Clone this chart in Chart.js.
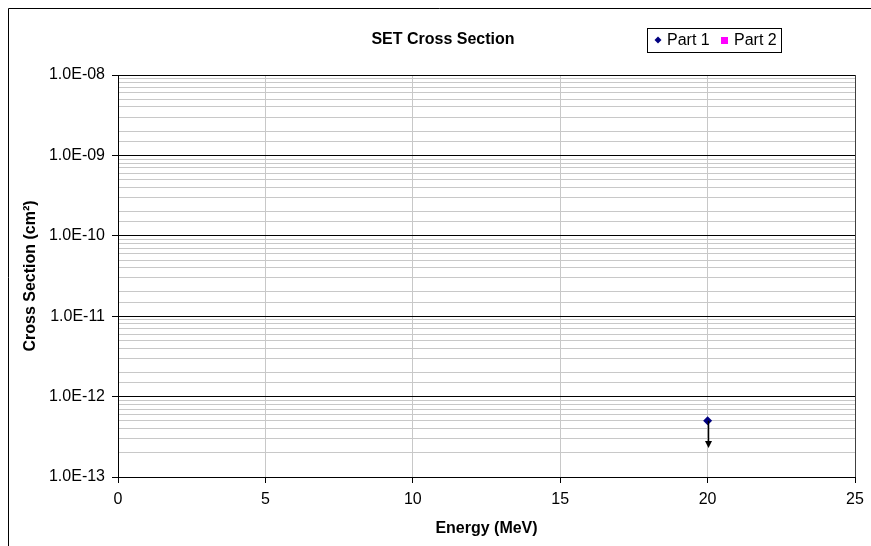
<!DOCTYPE html>
<html>
<head>
<meta charset="utf-8">
<script src="https://cdn.jsdelivr.net/npm/chart.js@4.4.0/dist/chart.umd.min.js"></script>
<style>
  html, body { margin: 0; padding: 0; background: #fff; }
  #chart { display: block; }
</style>
</head>
<body>
<canvas id="chart" width="871" height="546"></canvas>
<script>
// values
const part1Energy = [20];
const part1Section = [5e-13];
const part1Limit = [2.3e-13];   // arrow tip (upper-limit marker)
const part2Energy = [];
const part2Section = [];
const xTicks = [0, 5, 10, 15, 20, 25];
const yMin = 1e-13;
const yMax = 1e-8;

const FONT = "'Liberation Sans', Arial, sans-serif";

const isDecade = (v) => {
    const e = Math.log10(v);
    return Math.abs(e - Math.round(e)) < 1e-6;
};

const toPoints = (xs, ys) => xs.map((x, i) => ({ x: x, y: ys[i] }));

// frame, title, legend and the down arrows
const extras = {
    id: "extras",
    afterDatasetsDraw(chart) {
        const ctx = chart.ctx;
        const xs = chart.scales.x;
        const ys = chart.scales.y;
        ctx.save();
        ctx.strokeStyle = "#000";
        ctx.fillStyle = "#000";
        ctx.lineWidth = 1.5;
        part1Energy.forEach((e, i) => {
            const px = Math.round(xs.getPixelForValue(e)) + 0.5;
            const y0 = ys.getPixelForValue(part1Section[i]);
            const y1 = ys.getPixelForValue(part1Limit[i]);
            ctx.beginPath();
            ctx.moveTo(px, y0);
            ctx.lineTo(px, y1 - 6);
            ctx.stroke();
            ctx.beginPath();
            ctx.moveTo(px - 3.5, y1 - 7);
            ctx.lineTo(px + 3.5, y1 - 7);
            ctx.lineTo(px, y1);
            ctx.closePath();
            ctx.fill();
        });
        ctx.restore();
    },
    afterDraw(chart) {
        const ctx = chart.ctx;
        ctx.save();
        ctx.strokeStyle = "#000";
        ctx.lineWidth = 1;
        ctx.beginPath();
        ctx.moveTo(8.5, 546);
        ctx.lineTo(8.5, 8.5);
        ctx.lineTo(871, 8.5);
        ctx.stroke();

        ctx.fillStyle = "#000";
        ctx.font = "bold 16px " + FONT;
        ctx.textAlign = "center";
        ctx.textBaseline = "middle";
        ctx.fillText("SET Cross Section", 443, 40);

        // legend
        ctx.lineWidth = 1;
        ctx.strokeRect(647.5, 28.5, 134, 24);
        ctx.fillStyle = "#000080";
        ctx.beginPath();
        ctx.moveTo(658, 36.5);
        ctx.lineTo(661.5, 40);
        ctx.lineTo(658, 43.5);
        ctx.lineTo(654.5, 40);
        ctx.closePath();
        ctx.fill();
        ctx.fillStyle = "#ff00ff";
        ctx.fillRect(721, 37, 7, 7);
        ctx.fillStyle = "#000";
        ctx.font = "16px " + FONT;
        ctx.textAlign = "left";
        ctx.fillText("Part 1", 667, 41);
        ctx.fillText("Part 2", 734, 41);
        ctx.restore();
    }
};

new Chart(document.getElementById("chart"), {
    type: "scatter",
    data: {
        datasets: [
            {
                label: "Part 1",
                data: toPoints(part1Energy, part1Section),
                pointStyle: "rectRot",
                pointRadius: 4.5,
                backgroundColor: "#000080",
                borderColor: "#000080",
                borderWidth: 0
            },
            {
                label: "Part 2",
                data: toPoints(part2Energy, part2Section),
                pointStyle: "rect",
                pointRadius: 3.5,
                backgroundColor: "#ff00ff",
                borderColor: "#ff00ff"
            }
        ]
    },
    options: {
        responsive: false,
        animation: false,
        devicePixelRatio: 1,
        layout: { padding: { top: 75, right: 16, left: 0, bottom: 0 } },
        plugins: {
            legend: { display: false },
            title: { display: false },
            tooltip: { enabled: false }
        },
        scales: {
            x: {
                type: "linear",
                min: 0,
                max: 25,
                afterBuildTicks: (scale) => {
                    scale.ticks = xTicks.map(v => ({ value: v }));
                },
                afterFit: (scale) => { scale.height = 69; },
                grid: {
                    color: (c) => c.tick && c.tick.value === 25 ? "#404040" : "#c8c8c8",
                    tickColor: "#000",
                    tickLength: 6,
                    lineWidth: 1
                },
                border: { color: "#000", width: 1 },
                ticks: {
                    color: "#000",
                    padding: 7,
                    font: { family: FONT, size: 16 }
                },
                title: {
                    display: true,
                    text: "Energy (MeV)",
                    color: "#000",
                    font: { family: FONT, size: 16, weight: "bold" },
                    padding: { top: 4, bottom: 8 }
                }
            },
            y: {
                type: "logarithmic",
                min: yMin,
                max: yMax,
                afterFit: (scale) => { scale.width = 118; },
                grid: {
                    color: (c) => c.tick && isDecade(c.tick.value) ? "#000" : "#c8c8c8",
                    tickColor: (c) => c.tick && isDecade(c.tick.value) ? "#000" : "rgba(0,0,0,0)",
                    tickLength: 6,
                    lineWidth: 1
                },
                border: { color: "#000", width: 1 },
                ticks: {
                    autoSkip: false,
                    color: "#000",
                    padding: 7,
                    font: { family: FONT, size: 16 },
                    callback: (v) => {
                        if (!isDecade(v)) return "";
                        const e = Math.round(Math.log10(v));
                        return "1.0E-" + String(-e).padStart(2, "0");
                    }
                },
                title: {
                    display: true,
                    text: "Cross Section (cm²)",
                    color: "#000",
                    font: { family: FONT, size: 16, weight: "bold" },
                    padding: { top: 21, bottom: 0 }
                }
            }
        }
    },
    plugins: [extras]
});
</script>
</body>
</html>
